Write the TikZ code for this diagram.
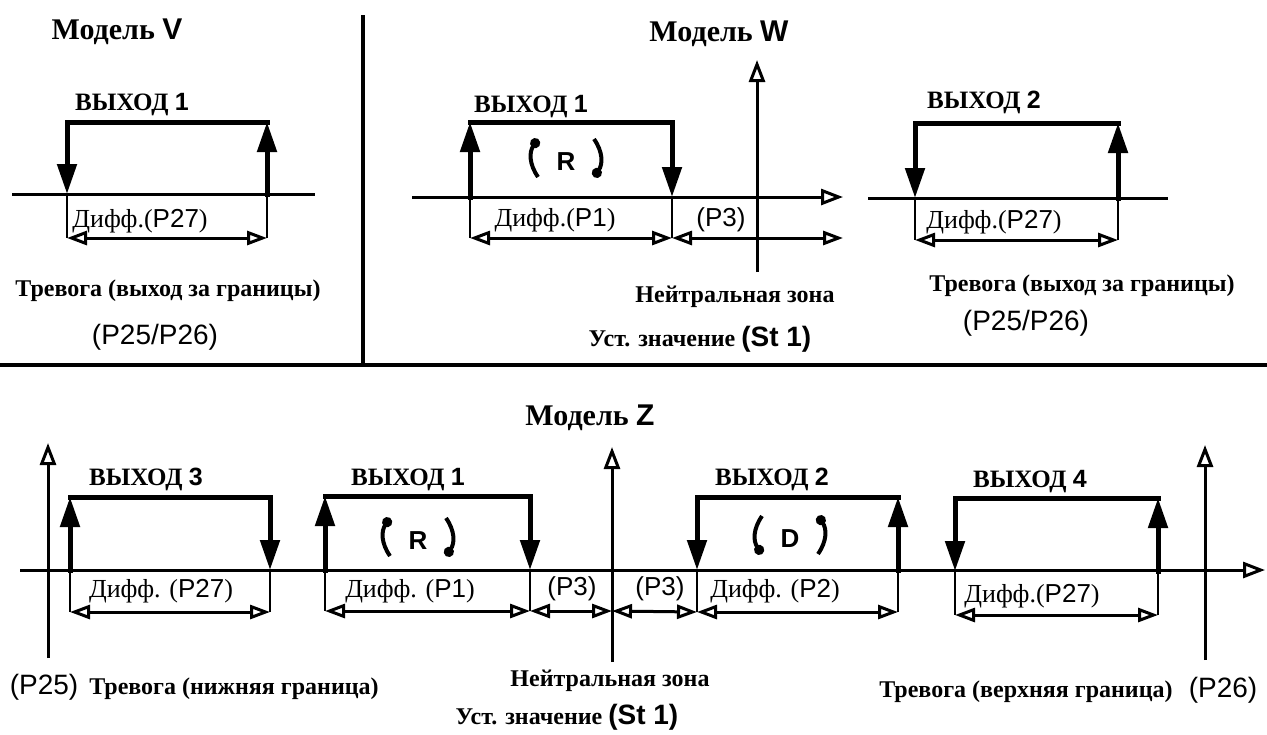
\documentclass[tikz,border=0pt]{standalone}
\usepackage{fontspec}
\setmainfont{Liberation Serif}
\setsansfont{Liberation Sans}
\usepackage{tikz}
\usetikzlibrary{arrows.meta,positioning}

\newcommand{\sfpart}[1]{{\sffamily #1}}

\tikzset{
    outline/.style={
        line width=2.5pt,
        line cap=rect,
        line join=miter,
        -{Triangle[length=15pt,width=9.5pt]}
    },
    leg/.style={line width=1.1pt},
    axisline/.style={line width=1.5pt},
    axisarrow/.style={
        line width=1.5pt,
        -{Triangle[open,length=11pt,width=8pt,fill=white]}
    },
    diffline/.style={
        line width=1.5pt,
        {Triangle[open,length=10pt,width=7pt,fill=white]}-{Triangle[open,length=10pt,width=7pt,fill=white]}
    },
    divider/.style={line width=1.8pt},
    turnarc/.style={line width=2pt, -{Circle[length=5pt]}},
    title/.style={anchor=base, font=\fontsize{15}{17}\selectfont\bfseries},
    outlabel/.style={anchor=base, font=\fontsize{12.5}{14}\selectfont\bfseries},
    difflabel/.style={anchor=base, font=\fontsize{13}{15}\selectfont},
    note/.style={anchor=base, font=\fontsize{12}{14}\selectfont\bfseries},
    plabel/.style={anchor=base, font=\fontsize{14}{16}\selectfont\sffamily},
    p3label/.style={anchor=base, font=\fontsize{13}{15}\selectfont\sffamily},
    turnletter/.style={font=\fontsize{13}{15}\selectfont\sffamily\bfseries}
}

\begin{document}
\begin{tikzpicture}[x=0.5pt, y=-0.5pt]
    \useasboundingbox (0,0) rectangle (1267,734);

    % Frame lines
    \coordinate (div-top) at (363,15);
    \coordinate (div-bot) at (363,365);
    \coordinate (hdiv-l) at (0,365);
    \coordinate (hdiv-r) at (1267,365);
    \draw[divider] (div-top) -- (div-bot);
    \draw[divider] (hdiv-l) -- (hdiv-r);

    % Axes
    \coordinate (vax-l) at (12,194);
    \coordinate (vax-r) at (315,194);
    \coordinate (wax-l) at (412,197);
    \coordinate (wax-r) at (843,197);
    \coordinate (wax2-l) at (868,198);
    \coordinate (wax2-r) at (1168,198);
    \coordinate (wvert-b) at (757,272);
    \coordinate (wvert-t) at (757,60);
    \coordinate (zax-l) at (20,570);
    \coordinate (zax-r) at (1265,570);
    \draw[axisline] (vax-l) -- (vax-r);
    \draw[axisarrow] (wax-l) -- (wax-r);
    \draw[axisline] (wax2-l) -- (wax2-r);
    \draw[axisarrow] (wvert-b) -- (wvert-t);
    \draw[axisarrow] (zax-l) -- (zax-r);
    \foreach \nm/\xx/\yb/\yt in {zl/48/658/443, zc/612/662/447, zr/1205/660/445} {
        \coordinate (\nm-b) at (\xx,\yb);
        \coordinate (\nm-t) at (\xx,\yt);
        \draw[axisarrow] (\nm-b) -- (\nm-t);
    }

    % Output boxes: up side, down side, top, axis, diff line
    \foreach \nm/\xu/\xd/\yt/\ya/\yd in {
        v1/267/67/122/194/238,
        w1/470/672/122/197/238,
        w2/1118/915/123/198/240,
        z3/70/270/497/570/612,
        z1/325/530/496/570/611,
        z2/898/697/497/570/612,
        z4/1158/955/498/571/615%
    } {
        \coordinate (\nm-ua) at (\xu,\ya);
        \coordinate (\nm-ut) at (\xu,\yt);
        \coordinate (\nm-dt) at (\xd,\yt);
        \coordinate (\nm-da) at (\xd,\ya);
        \coordinate (\nm-ud) at (\xu,\yd);
        \coordinate (\nm-dd) at (\xd,\yd);
        \draw[outline] (\nm-ut) -- (\nm-dt) -- (\nm-da);
        \draw[outline] (\nm-ua) -- (\nm-ut);
        \draw[leg] (\nm-ua) -- (\nm-ud);
        \draw[leg] (\nm-da) -- (\nm-dd);
        \draw[diffline] (\nm-ud) -- (\nm-dd);
    }

    % Neutral zone arrows
    \coordinate (w-p3end) at (843,238);
    \coordinate (zc-d) at (612,611);
    \draw[diffline] (w1-dd) -- (w-p3end);
    \draw[diffline] (z1-dd) -- (zc-d);
    \draw[diffline] (zc-d) -- (z2-dd);

    % Action marks
    \foreach \nm/\cx/\cy/\s/\ltr in {wr/566/158/1/R, zr/418/537/1/R, zd/790/535/-1/D} {
        \node[turnletter] (\nm) at (\cx,{\cy+4}) {\ltr};
        \draw[turnarc] ({\cx-28},{\cy+19*(\s)}) .. controls ({\cx-37},{\cy+6*(\s)}) and ({\cx-37},{\cy-6*(\s)}) .. ({\cx-28},{\cy-19*(\s)});
        \draw[turnarc] ({\cx+28},{\cy-19*(\s)}) .. controls ({\cx+37},{\cy-6*(\s)}) and ({\cx+37},{\cy+6*(\s)}) .. ({\cx+28},{\cy+19*(\s)});
    }

    % Model V
    \node[title] (vtitle) at (117,39) {Модель \sfpart{V}};
    \node[outlabel] (v1-lab) at (132,110) {ВЫХОД \sfpart{1}};
    \node[difflabel] (v1-diff) at (140,227) {Дифф.(\sfpart{P27})};
    \node[note] (v-alarm) at (168,296) {Тревога (выход за границы)};
    \node[plabel] (v-plim) at (155,344) {(P25/P26)};

    % Model W
    \node[title] (wtitle) at (719,41) {Модель \sfpart{W}};
    \node[outlabel] (w1-lab) at (531,112) {ВЫХОД \sfpart{1}};
    \node[difflabel] (w1-diff) at (555,226) {Дифф.(\sfpart{P1})};
    \node[p3label] (w-p3) at (721,226) {(P3)};
    \node[note] (w-neutral) at (735,302) {Нейтральная зона};
    \node[note] (w-set) at (700,346) {Уст. значение \sfpart{\fontsize{14}{16}\selectfont(St 1)}};
    \node[outlabel] (w2-lab) at (984,108) {ВЫХОД \sfpart{2}};
    \node[difflabel] (w2-diff) at (994,228) {Дифф.(\sfpart{P27})};
    \node[note] (w-alarm) at (1082,291) {Тревога (выход за границы)};
    \node[plabel] (w-plim) at (1026,330) {(P25/P26)};

    % Model Z
    \node[title] (ztitle) at (590,425) {Модель \sfpart{Z}};
    \node[outlabel] (z3-lab) at (146,485) {ВЫХОД \sfpart{3}};
    \node[difflabel] (z3-diff) at (161,597) {Дифф. (\sfpart{P27})};
    \node[outlabel] (z1-lab) at (408,485) {ВЫХОД \sfpart{1}};
    \node[difflabel] (z1-diff) at (410,597) {Дифф. (\sfpart{P1})};
    \node[p3label] (z-p3a) at (572,595) {(P3)};
    \node[p3label] (z-p3b) at (660,595) {(P3)};
    \node[outlabel] (z2-lab) at (772,485) {ВЫХОД \sfpart{2}};
    \node[difflabel] (z2-diff) at (775,597) {Дифф. (\sfpart{P2})};
    \node[outlabel] (z4-lab) at (1030,487) {ВЫХОД \sfpart{4}};
    \node[difflabel] (z4-diff) at (1032,602) {Дифф.(\sfpart{P27})};
    \node[plabel] (z-p25) at (44,694) {(P25)};
    \node[note] (z-low) at (234,694) {Тревога (нижняя граница)};
    \node[note] (z-neutral) at (610,686) {Нейтральная зона};
    \node[note] (z-set) at (567,724) {Уст. значение \sfpart{\fontsize{14}{16}\selectfont(St 1)}};
    \node[note] (z-high) at (1026,697) {Тревога (верхняя граница)};
    \node[plabel] (z-p26) at (1223,697) {(P26)};
\end{tikzpicture}
\end{document}
